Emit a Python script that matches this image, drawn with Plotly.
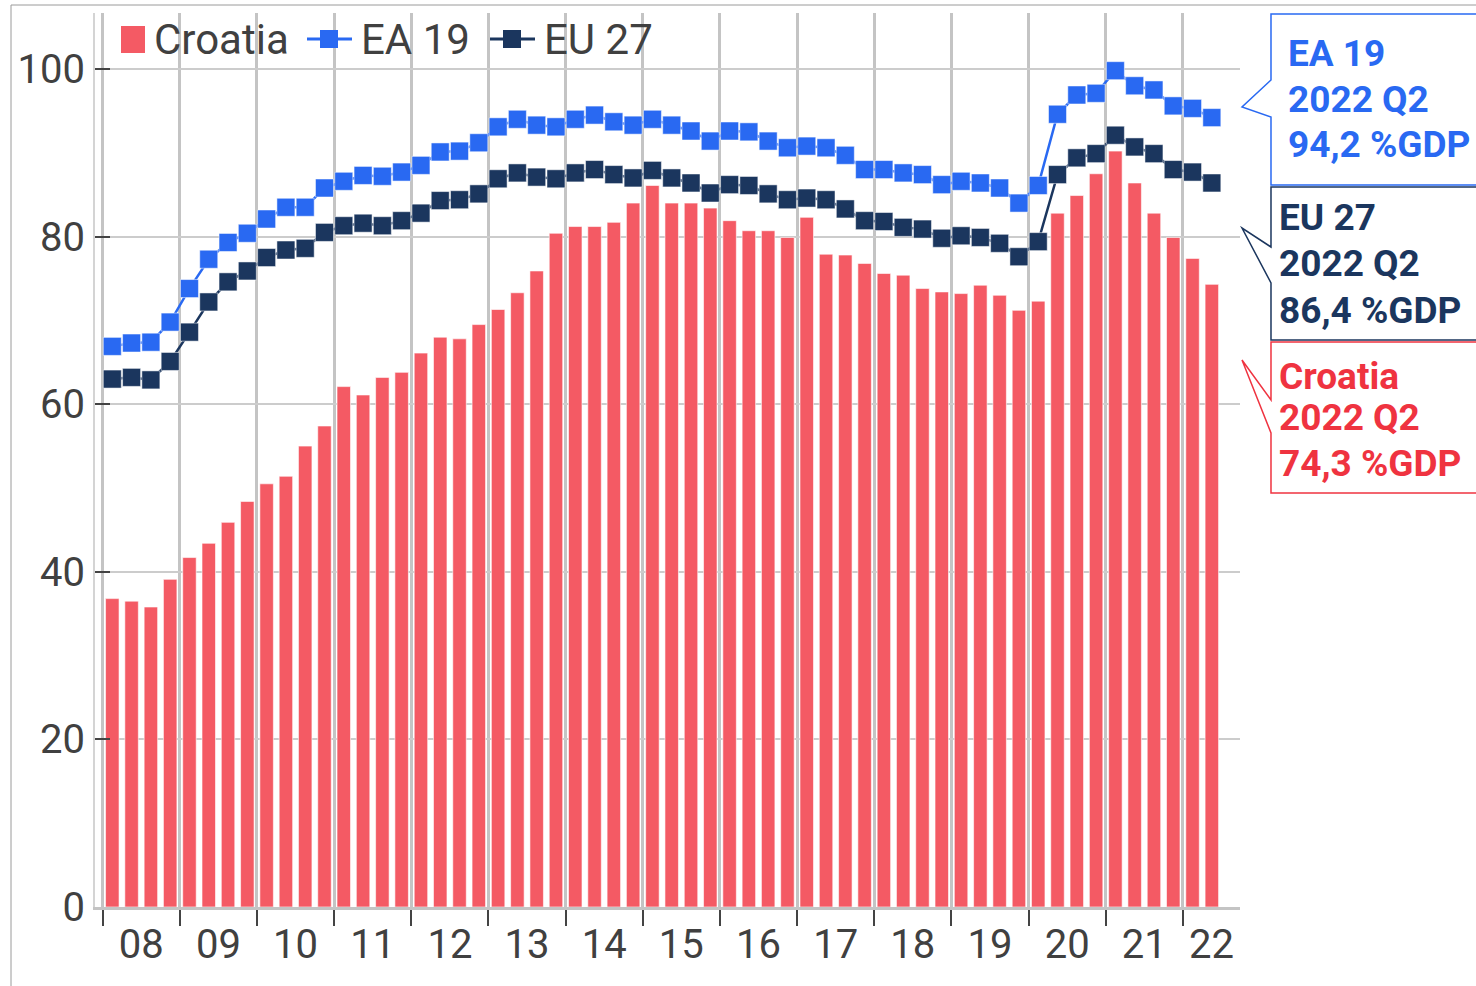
import plotly.graph_objects as go

# ---------------- data ----------------
years = list(range(2008, 2023))
quarters = [f"{y} Q{q}" for y in years for q in range(1, 5)][:58]
year_labels = ["08", "09", "10", "11", "12", "13", "14", "15", "16", "17",
               "18", "19", "20", "21", "22"]

croatia = [36.8, 36.5, 35.8, 39.1,
           41.7, 43.4, 45.9, 48.4,
           50.5, 51.4, 55.0, 57.4,
           62.1, 61.1, 63.2, 63.8,
           66.1, 68.0, 67.8, 69.5,
           71.3, 73.3, 75.9, 80.4,
           81.2, 81.2, 81.7, 84.0,
           86.1, 84.0, 84.0, 83.4,
           81.9, 80.7, 80.7, 79.9,
           82.3, 77.9, 77.8, 76.8,
           75.6, 75.4, 73.8, 73.4,
           73.2, 74.2, 73.0, 71.2,
           72.3, 82.8, 84.9, 87.5,
           90.2, 86.4, 82.8, 79.9,
           77.4, 74.3]

ea19 = [66.9, 67.3, 67.4, 69.8,
        73.8, 77.3, 79.3, 80.4,
        82.1, 83.5, 83.5, 85.8,
        86.6, 87.3, 87.2, 87.7,
        88.5, 90.1, 90.2, 91.2,
        93.1, 94.0, 93.3, 93.1,
        94.0, 94.5, 93.7, 93.3,
        94.0, 93.3, 92.6, 91.4,
        92.6, 92.5, 91.4, 90.6,
        90.8, 90.6, 89.7, 88.0,
        88.0, 87.6, 87.4, 86.2,
        86.6, 86.4, 85.8, 84.0,
        86.1, 94.6, 96.9, 97.1,
        99.8, 98.0, 97.5, 95.6,
        95.3, 94.2]

eu27 = [63.0, 63.2, 62.9, 65.1,
        68.6, 72.2, 74.6, 75.9,
        77.5, 78.4, 78.6, 80.5,
        81.3, 81.6, 81.3, 81.9,
        82.8, 84.3, 84.4, 85.1,
        86.9, 87.6, 87.1, 86.9,
        87.6, 88.0, 87.4, 87.0,
        87.9, 87.0, 86.4, 85.2,
        86.2, 86.1, 85.1, 84.4,
        84.6, 84.4, 83.3, 81.9,
        81.8, 81.1, 80.9, 79.8,
        80.1, 79.9, 79.2, 77.6,
        79.4, 87.4, 89.4, 89.9,
        92.1, 90.7, 89.9, 88.0,
        87.7, 86.4]

# ---------------- styling ----------------
C_HR = "#F45A64"
C_EA = "#2969F2"
C_EU = "#1B365E"
C_HR_TXT = "#EF3340"
TXT = "#404040"
FONT = "Roboto"

W, H = 1476, 986
L, R, T, B = 95, 1240, 13, 907


def px(x):
    return (x - L) / (R - L)


def py(y):
    return (B - y) / (B - T)


n = len(quarters)
xi = list(range(n))

fig = go.Figure()
fig.add_trace(go.Bar(
    x=xi, y=croatia, name="Croatia", width=0.7,
    marker=dict(color=C_HR, line=dict(color="rgba(255,255,255,0.6)", width=1)),
    hovertext=quarters, showlegend=False))
fig.add_trace(go.Scatter(
    x=xi, y=ea19, name="EA 19", mode="lines+markers",
    line=dict(color=C_EA, width=2.5),
    marker=dict(symbol="square", size=18, color=C_EA,
                line=dict(color="rgba(255,255,255,0.5)", width=1)),
    hovertext=quarters, showlegend=False))
fig.add_trace(go.Scatter(
    x=xi, y=eu27, name="EU 27", mode="lines+markers",
    line=dict(color=C_EU, width=2.5),
    marker=dict(symbol="square", size=18, color=C_EU,
                line=dict(color="rgba(255,255,255,0.5)", width=1)),
    hovertext=quarters, showlegend=False))

x_lo = (L - 112.3) / 19.29
x_hi = (R - 112.3) / 19.29

# year positions
n_years = len(year_labels)
boundaries = [4 * j - 0.5 for j in range(n_years)]
label_pos = []
for j in range(n_years):
    left = 4 * j - 0.5
    right = min(4 * j + 3.5, x_hi)
    label_pos.append((left + right) / 2)

fig.update_xaxes(
    range=[x_lo, x_hi],
    tickmode="array", tickvals=label_pos, ticktext=year_labels,
    ticks="", showgrid=False, zeroline=False,
    showline=True, linecolor="#c4c4c4", linewidth=2.5,
    tickfont=dict(family=FONT, size=40, color=TXT),
    minor=dict(tickmode="array", tickvals=boundaries, ticks="outside",
               ticklen=16, tickwidth=2, tickcolor="#444444",
               showgrid=True, gridcolor="#c4c4c4", gridwidth=2.5),
)
fig.update_yaxes(
    range=[0, (B - T) / 8.38],
    tickmode="array", tickvals=[0, 20, 40, 60, 80, 100],
    ticks="inside", ticklen=15, tickwidth=2, tickcolor="#444444",
    showgrid=True, gridcolor="#cccccc", gridwidth=1.5,
    zeroline=False, showline=True, linecolor="#d4d4d4", linewidth=2,
    tickfont=dict(family=FONT, size=40, color=TXT),
)

shapes = []
annotations = []

# outer frame
shapes.append(dict(type="rect", xref="paper", yref="paper",
                   x0=px(11), y0=py(1000), x1=px(1495), y1=py(5),
                   line=dict(color="#9a9a9a", width=1), layer="below"))

# manual legend
shapes.append(dict(type="rect", xref="paper", yref="paper",
                   x0=px(121), x1=px(145), y0=py(53), y1=py(26),
                   fillcolor=C_HR, line=dict(width=0)))
for x0, col in [(307, C_EA), (490, C_EU)]:
    shapes.append(dict(type="line", xref="paper", yref="paper",
                       x0=px(x0), x1=px(x0 + 45), y0=py(39), y1=py(39),
                       line=dict(color=col, width=3)))
    shapes.append(dict(type="rect", xref="paper", yref="paper",
                       x0=px(x0 + 13), x1=px(x0 + 31), y0=py(48), y1=py(30),
                       fillcolor=col, line=dict(width=0)))
for xt, txt in [(152, "Croatia"), (359, "EA 19"), (542, "EU 27")]:
    annotations.append(dict(xref="paper", yref="paper", x=px(xt), y=py(39),
                            xanchor="left", yanchor="middle", showarrow=False,
                            text=txt, font=dict(family=FONT, size=42, color=TXT)))


# callouts
def path(pts):
    s = "M " + " L ".join(f"{px(a):.5f},{py(b):.5f}" for a, b in pts) + " Z"
    return s


callouts = [
    ("EA 19", ea19[-1], C_EA, [(1500, 14), (1271, 14), (1271, 80), (1242, 107),
                               (1271, 117), (1271, 185), (1500, 185)],
     1286, [53, 99, 144]),
    ("EU 27", eu27[-1], C_EU, [(1500, 187), (1271, 187), (1271, 247), (1242, 228),
                               (1271, 283), (1271, 340), (1500, 340)],
     1277, [217, 263, 310]),
    ("Croatia", croatia[-1], C_HR_TXT, [(1500, 342), (1271, 342), (1271, 400), (1242, 360),
                                        (1271, 433), (1271, 493), (1500, 493)],
     1277, [376, 417, 463]),
]
last_q = quarters[-1]
for name, val, col, pts, tx, ys in callouts:
    shapes.append(dict(type="path", xref="paper", yref="paper", path=path(pts),
                       fillcolor="white", line=dict(color=col, width=1.5)))
    lines = [name, last_q, f"{val:.1f}".replace(".", ",") + " %GDP"]
    for t, yy in zip(lines, ys):
        annotations.append(dict(xref="paper", yref="paper", x=px(tx), y=py(yy),
                                xanchor="left", yanchor="middle", showarrow=False,
                                text=f"<b>{t}</b>",
                                font=dict(family=FONT, size=37, color=col)))

fig.update_layout(
    width=W, height=H,
    margin=dict(l=L, r=W - R, t=T, b=H - B, pad=0),
    paper_bgcolor="white", plot_bgcolor="white",
    showlegend=False, bargap=0.3,
    shapes=shapes, annotations=annotations,
    font=dict(family=FONT, color=TXT),
)

fig.write_html("out.html",
               config={"displayModeBar": False},
               post_script="document.body.style.margin='0px';document.body.style.overflow='hidden';")
